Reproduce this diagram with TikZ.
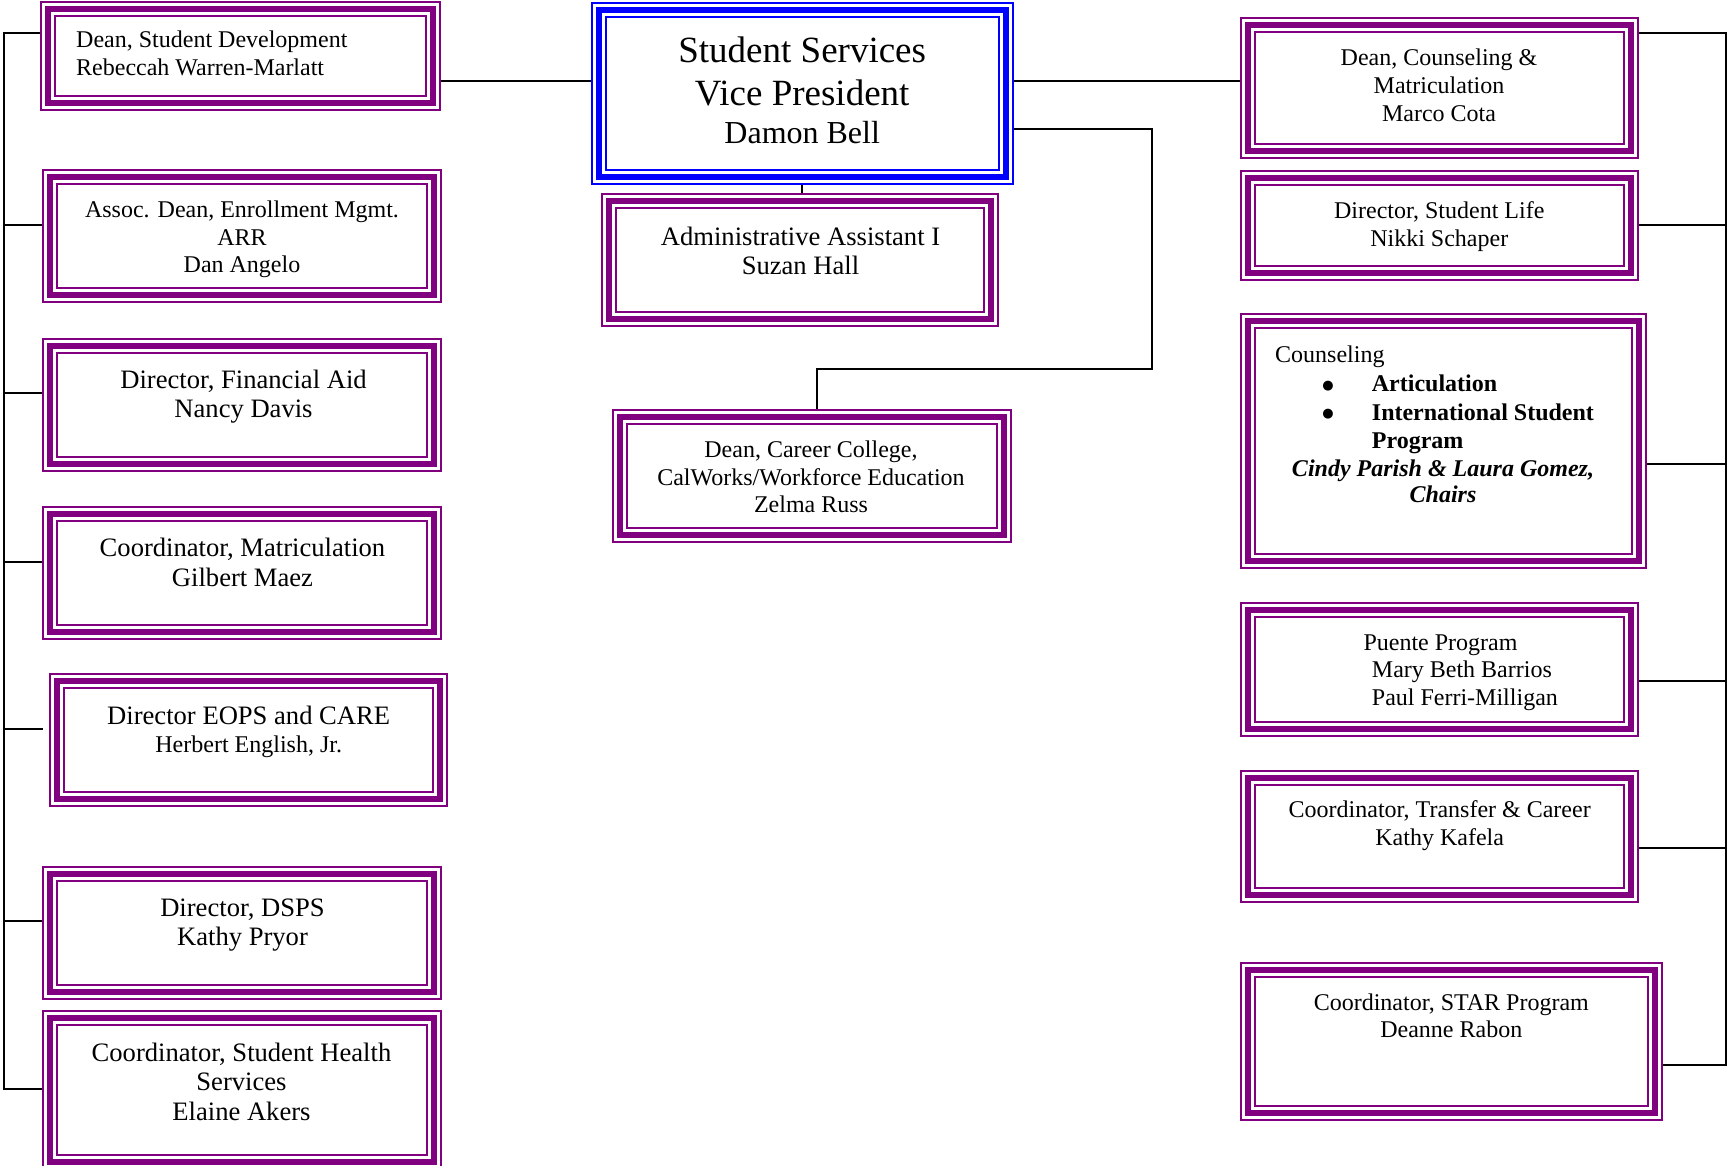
\documentclass[tikz,border=0pt]{standalone}
\usepackage{fontspec}
\setmainfont{Liberation Serif}
\newfontfamily\dejavu{DejaVu Sans}
\usetikzlibrary{calc}
\definecolor{vpurple}{HTML}{800080}
\definecolor{vblue}{HTML}{0000FF}
\newcommand\tribord[1]{%
  \draw[#1,line width=1.6pt] ([shift={(0.8pt,0.8pt)}]path picture bounding box.south west) rectangle ([shift={(-0.8pt,-0.8pt)}]path picture bounding box.north east);
  \draw[#1,line width=6.2pt] ([shift={(7.8pt,7.8pt)}]path picture bounding box.south west) rectangle ([shift={(-7.8pt,-7.8pt)}]path picture bounding box.north east);
  \draw[#1,line width=2pt] ([shift={(14.6pt,14.6pt)}]path picture bounding box.south west) rectangle ([shift={(-14.6pt,-14.6pt)}]path picture bounding box.north east);
}
\newcommand\ml[2]{\begin{tabular}[t]{@{}#1@{}}#2\end{tabular}}
\tikzset{
  pbox/.style={rectangle, fill=white, inner sep=0pt, outer sep=0pt, path picture={\tribord{vpurple}}},
  bbox/.style={rectangle, fill=white, inner sep=0pt, outer sep=0pt, path picture={\tribord{vblue}}},
  small/.style={inner sep=0pt, font=\fontsize{24}{27.6}\selectfont},
  large/.style={inner sep=0pt, font=\fontsize{26.6}{29.6}\selectfont},
  bul/.style={inner sep=0pt, font=\dejavu\fontsize{13}{28.3}\selectfont},
  conn/.style={line width=2pt, black},
}
\begin{document}
\begin{tikzpicture}[x=1pt,y=-1pt]
\useasboundingbox[fill=white] (0,0) rectangle (1727,1166);
% ---------- left column
\node[pbox, minimum width=401pt, minimum height=110pt] (dsd) at (240.5,56) {};
\node[pbox, minimum width=400pt, minimum height=134pt] (assoc) at (242,236) {};
\node[pbox, minimum width=400pt, minimum height=134pt] (finaid) at (242,405) {};
\node[pbox, minimum width=400pt, minimum height=134pt] (coordmat) at (242,573) {};
\node[pbox, minimum width=399pt, minimum height=134pt] (eops) at (248.5,740) {};
\node[pbox, minimum width=400pt, minimum height=134pt] (dsps) at (242,933) {};
\node[pbox, minimum width=400pt, minimum height=160pt] (health) at (242,1090) {};
% ---------- centre
\node[bbox, minimum width=423pt, minimum height=183pt] (vp) at (802.5,93.5) {};
\node[pbox, minimum width=398pt, minimum height=134pt] (admin) at (800,260) {};
\node[pbox, minimum width=400pt, minimum height=134pt] (career) at (812,476) {};
% ---------- right column
\node[pbox, minimum width=399pt, minimum height=142pt] (dcm) at (1439.5,88) {};
\node[pbox, minimum width=399pt, minimum height=111pt] (dsl) at (1439.5,225.5) {};
\node[pbox, minimum width=407pt, minimum height=256pt] (couns) at (1443.5,441) {};
\node[pbox, minimum width=399pt, minimum height=135pt] (puente) at (1439.5,669.5) {};
\node[pbox, minimum width=399pt, minimum height=133pt] (transfer) at (1439.5,836.5) {};
\node[pbox, minimum width=423pt, minimum height=159pt] (star) at (1451.5,1041.5) {};
% ---------- texts
\begin{scope}[yshift=-1pt]
\node[small, anchor=base west] (tdsd) at (76,46.7) {\ml{l}{Dean, Student Development\\Rebeccah Warren-Marlatt}};
\node[small, anchor=base] (tassoc) at (242,216.7) {\ml{c}{Assoc. Dean, Enrollment Mgmt.\\ARR\\Dan Angelo}};
\node[large, anchor=base] (tfinaid) at (243.5,387.3) {\ml{c}{Director, Financial Aid\\Nancy Davis}};
\node[large, anchor=base] (tcoordmat) at (242.5,555.5) {\ml{c}{Coordinator, Matriculation\\Gilbert Maez}};
\node[large, anchor=base] (teops) at (248.7,723.3) {Director EOPS and CARE};
\node[small, anchor=base] (teopsn) at (248.7,751) {Herbert English, Jr.};
\node[large, anchor=base] (tdsps) at (242.5,915.3) {\ml{c}{Director, DSPS\\Kathy Pryor}};
\node[large, anchor=base] (thealth) at (241.5,1060) {\ml{c}{Coordinator, Student Health\\Services\\Elaine Akers}};
\node[inner sep=0pt, anchor=base, font=\fontsize{37}{42.6}\selectfont] (tvp) at (802.2,61.7) {\ml{c}{Student Services\\Vice President}};
\node[inner sep=0pt, anchor=base, font=\fontsize{32}{38}\selectfont] (tvpn) at (802.2,142.7) {Damon Bell};
\node[large, anchor=base] (tadmin) at (800.5,244.3) {\ml{c}{Administrative Assistant I\\Suzan Hall}};
\node[small, anchor=base] (tcareer) at (811,456.7) {\ml{c}{Dean, Career College,\\CalWorks/Workforce Education\\Zelma Russ}};
\node[small, anchor=base] (tdcm) at (1439,65) {\ml{c}{Dean, Counseling \&\\Matriculation\\Marco Cota}};
\node[small, anchor=base] (tdsl) at (1439.3,217.7) {\ml{c}{Director, Student Life\\Nikki Schaper}};
\node[small, anchor=base west] (tcouns) at (1275,361.7) {Counseling};
\node[bul, anchor=base] (bullets) at (1328,388.5) {\ml{c}{●\\●}};
\node[inner sep=0pt, anchor=base west, font=\fontsize{24}{28.3}\selectfont\bfseries] (tcounsb) at (1371.7,390.7) {\ml{l}{Articulation\\International Student\\Program}};
\node[inner sep=0pt, anchor=base, font=\fontsize{24}{26.7}\selectfont\bfseries\itshape] (tcounsc) at (1443,475) {\ml{c}{Cindy Parish \& Laura Gomez,\\Chairs}};
\node[small, anchor=base west] (tpuente) at (1363.3,649.3) {Puente Program};
\node[inner sep=0pt, anchor=base west, font=\fontsize{24}{28}\selectfont] (tpuenten) at (1371.7,676) {\ml{l}{Mary Beth Barrios\\Paul Ferri-Milligan}};
\node[small, anchor=base] (ttransfer) at (1439.7,816.7) {\ml{c}{Coordinator, Transfer \& Career\\Kathy Kafela}};
\node[small, anchor=base] (tstar) at (1451.3,1009) {\ml{c}{Coordinator, STAR Program\\Deanne Rabon}};
\end{scope}
% ---------- connectors
\coordinate (ltop) at (4,33);
\coordinate (rtop) at (1726,33);
\coordinate (eopsend) at (43,729);
\draw[conn] (dsd.west |- ltop) -- (ltop) |- ([yshift=1pt]health.west);
\draw[conn] (ltop) |- ([yshift=11pt]assoc.west);
\draw[conn] (ltop) |- ([yshift=12pt]finaid.west);
\draw[conn] (ltop) |- ([yshift=11pt]coordmat.west);
\draw[conn] (ltop) |- (eopsend);
\draw[conn] (ltop) |- ([yshift=12pt]dsps.west);
\draw[conn] (dcm.east |- rtop) -- (rtop) |- ([yshift=-23.5pt]star.east);
\draw[conn] ([yshift=0.5pt]dsl.east) -| (rtop);
\draw[conn] ([yshift=-23pt]couns.east) -| (rtop);
\draw[conn] ([yshift=-11.5pt]puente.east) -| (rtop);
\draw[conn] ([yshift=-11.5pt]transfer.east) -| (rtop);
\coordinate (vpl) at ([yshift=12.5pt]vp.west);
\coordinate (vpr) at ([yshift=-35.5pt]vp.east);
\coordinate (cbend) at (1152,369);
\draw[conn] (dsd.east |- vpl) -- (vpl);
\draw[conn] (vp.east |- vpl) -- (dcm.west |- vpl);
\draw[conn] (vpr) -| (cbend) -| ([xshift=5pt]career.north);
\draw[conn] ([xshift=-0.5pt]vp.south) -- ([xshift=-0.5pt]vp.south |- admin.north);
\end{tikzpicture}
\end{document}
